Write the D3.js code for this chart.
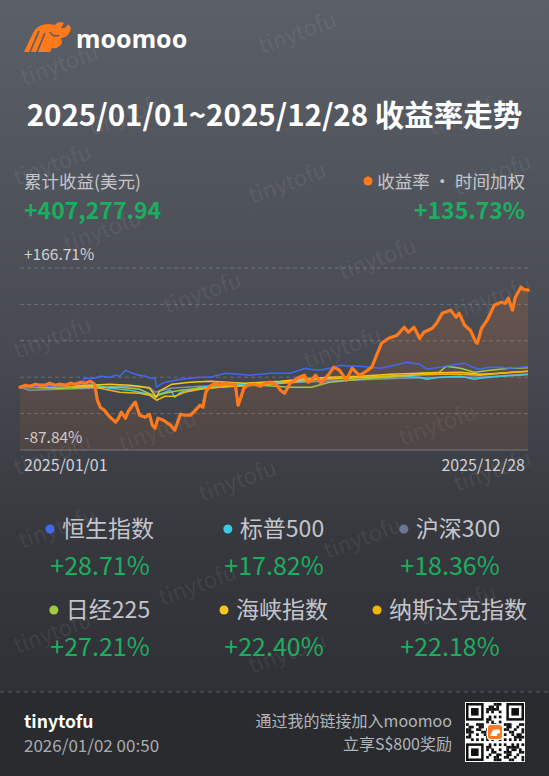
<!DOCTYPE html>
<meta charset="utf-8">
<script src="https://d3js.org/d3.v7.min.js"></script>
<style>
  body { margin: 0; background: #2a2b2f; }
  svg { display: block; font-family: "Noto Sans CJK SC", "Noto Sans", sans-serif; }
</style>
<body>
<svg width="549" height="776"></svg>
<script>
var startDay = "2025-01-01", endDay = "2025-12-28";
var titleText = "2025/01/01~2025/12/28 收益率走势";
var profitLabel = "累计收益(美元)", profitValue = "+407,277.94";
var twrLabel = "收益率 · 时间加权", twrValue = "+135.73%";
var yTop = 166.71, yBottom = -87.84;

// [days since 2025/01/01, return %]
var myReturn = [[0,0],[4,2.8],[7,1.4],[11,4.2],[14,2.8],[18,2.8],[21,5.6],[25,2.8],[28,4.2],[32,2.8],[36,5.6],[39,4.2],[43,7.0],[46,5.6],[50,8.4],[53,4.2],[55,-18.2],[57,-28.0],[60,-32.2],[64,-41.9],[68,-48.9],[70,-43.4],[72,-34.9],[75,-43.4],[77,-33.6],[80,-25.2],[82,-21.0],[85,-39.2],[89,-41.9],[92,-37.8],[94,-53.1],[96,-57.3],[98,-43.4],[102,-46.2],[104,-49.0],[107,-53.1],[110,-60.1],[114,-37.8],[117,-39.2],[121,-39.2],[124,-33.6],[128,-25.2],[130,-28.0],[132,-7.0],[135,1.4],[139,5.6],[142,2.8],[146,5.6],[149,4.2],[153,4.2],[155,-25.2],[157,-14.0],[159,-1.4],[162,2.8],[167,4.2],[171,1.4],[174,5.6],[178,7.0],[182,4.2],[185,-4.2],[188,-8.4],[192,5.6],[197,12.6],[202,16.8],[205,7.0],[207,9.8],[210,16.8],[214,5.6],[220,19.6],[223,28.0],[227,23.8],[232,9.8],[236,26.6],[241,16.8],[244,19.6],[250,28.0],[254,47.6],[257,61.5],[262,68.5],[268,72.7],[273,83.9],[276,76.9],[280,83.9],[284,68.5],[287,76.9],[293,82.5],[296,89.5],[300,103.5],[306,107.7],[310,97.9],[312,103.5],[316,86.7],[320,79.7],[324,62.9],[325,61.5],[328,82.5],[332,93.7],[337,114.7],[342,118.9],[345,117.5],[347,124.5],[350,107.7],[352,125.9],[356,139.8],[358,137.0],[361,135.73]];

var hsi = [[0,0],[39,2.8],[43,5.6],[46,12.6],[53,12.6],[57,15.4],[64,14.0],[68,16.8],[71,15.4],[75,23.8],[78,21.0],[82,18.2],[85,16.8],[89,15.4],[92,12.6],[96,12.6],[97,0],[99,2.8],[103,7.0],[107,8.4],[114,11.2],[121,12.6],[128,14.0],[135,14.0],[146,19.6],[156,18.2],[163,16.8],[171,18.2],[178,19.6],[192,19.6],[203,26.6],[206,25.2],[213,23.8],[220,26.6],[228,30.8],[234,29.4],[242,29.4],[249,28.0],[256,26.6],[263,29.4],[275,35.0],[284,32.2],[289,25.2],[298,28.0],[306,30.8],[316,33.6],[320,29.4],[326,25.2],[334,28.0],[341,28.0],[348,26.6],[355,28.0],[361,28.71]];

var spx = [[0,0],[50,2.8],[57,1.4],[64,-1.4],[71,-2.8],[78,-4.2],[85,-7.0],[92,-9.8],[96,-15.4],[99,-9.8],[107,-4.2],[110,-14.0],[114,-7.0],[121,-4.2],[128,0],[135,1.4],[142,2.8],[156,4.2],[171,5.6],[185,7.0],[199,9.8],[213,11.2],[227,12.6],[242,14.0],[256,14.0],[270,15.4],[284,14.0],[289,11.2],[298,14.0],[313,15.4],[323,11.2],[327,12.6],[341,15.4],[355,16.8],[361,17.82]];

var csi300 = [[0,0],[7,-4.2],[28,-2.8],[50,-1.4],[71,1.4],[92,0],[96,-7.0],[107,-1.4],[128,1.4],[163,2.8],[199,7.0],[234,9.8],[270,12.6],[306,14.0],[327,14.0],[361,18.36]];

var nikkei = [[0,0],[28,-1.4],[50,0],[71,0],[85,-2.8],[96,-12.6],[103,-8.4],[114,-4.2],[128,-1.4],[149,1.4],[171,2.8],[192,0],[207,0],[220,7.0],[234,9.8],[249,12.6],[263,14.0],[277,16.8],[285,19.6],[298,21.0],[303,29.4],[313,26.6],[323,21.0],[334,23.8],[348,26.6],[361,27.21]];

var sti = [[0,0],[28,1.4],[50,2.8],[64,4.2],[78,2.8],[85,1.4],[92,-1.4],[97,-14.0],[99,-5.6],[108,4.2],[121,7.0],[135,8.4],[160,5.6],[185,8.4],[199,11.2],[220,14.0],[242,15.4],[263,18.2],[284,19.6],[313,21.0],[327,18.2],[341,19.6],[361,22.40]];

var nasdaq = [[0,0],[50,1.4],[57,-1.4],[64,-4.2],[71,-7.0],[85,-8.4],[92,-11.2],[97,-18.2],[103,-12.6],[110,-12.6],[117,-7.0],[128,-2.8],[142,0],[163,2.8],[185,5.6],[199,8.4],[213,11.2],[234,12.6],[256,15.4],[277,16.8],[298,18.2],[313,18.2],[327,16.8],[341,19.6],[361,22.18]];

var indexNames = ["恒生指数", "标普500", "沪深300", "日经225", "海峡指数", "纳斯达克指数"];
var indexFinal = ["+28.71%", "+17.82%", "+18.36%", "+27.21%", "+22.40%", "+22.18%"];
var indexSeries = [hsi, spx, csi300, nikkei, sti, nasdaq];
var indexColors = ["#4169f0", "#3dc9e6", "#6b7790", "#9ccc3d", "#f7c51e", "#f5b40a"];
var lineColors  = ["#4169f0", "#3dc9e6", "#8690a3", "#9ccc3d", "#f7c51e", "#f5b40a"];

var footerName = "tinytofu", footerTime = "2026/01/02 00:50";
var inviteLines = ["通过我的链接加入moomoo", "立享S$800奖励"];

var W = 549, H = 776;
var green = "#1cae60", orange = "#ff7a1c";
var svg = d3.select("svg");
var defs = svg.append("defs");

// background
var bg = defs.append("linearGradient").attr("id", "bg").attr("x1", 0).attr("x2", 0).attr("y1", 0).attr("y2", 1);
bg.append("stop").attr("offset", "0%").attr("stop-color", "#5b5f67");
bg.append("stop").attr("offset", "45%").attr("stop-color", "#474a51");
bg.append("stop").attr("offset", "70%").attr("stop-color", "#36383e");
bg.append("stop").attr("offset", "100%").attr("stop-color", "#2c2d31");
svg.append("rect").attr("width", W).attr("height", H).attr("fill", "url(#bg)");
svg.append("rect").attr("y", 692).attr("width", W).attr("height", H - 692).attr("fill", "#2a2b2f");
svg.append("line").attr("x1", 0).attr("x2", W).attr("y1", 692).attr("y2", 692)
  .attr("stroke", "rgba(255,255,255,0.22)").attr("stroke-dasharray", "4,4");

// watermark
var marks = [[62,72],[300,40],[130,122],[470,122],[55,172],[290,190],[495,182],[105,238],[380,266],[205,300],[495,305],[55,345],[345,355],[160,438],[440,432],[55,462],[240,488],[495,478],[60,535],[365,545],[200,592],[460,612],[55,640],[290,660]];
svg.append("g").selectAll("text").data(marks).enter().append("text")
  .attr("transform", function(d){ return "translate(" + d[0] + "," + d[1] + ") rotate(-20)"; })
  .attr("text-anchor", "middle")
  .attr("font-size", 22)
  .attr("fill", "rgba(255,255,255,0.07)")
  .text("tinytofu");

// logo
var logo = svg.append("g");
logo.append("path")
  .attr("d", "M24,52 L33,33 C36,27 42,24 49,24 L55,25 C57,22 61,21 64,23 L61,28 C64,29 67,27 68,24 L71,28 C70,34 66,38 61,38 L62,43 C60,47 56,49 52,48 L50,52 Z")
  .attr("fill", orange);
logo.append("path").attr("d", "M30,52 L39,31 M37,52 L45,33").attr("stroke", "#585c64").attr("stroke-width", 1.6);
logo.append("path").attr("d", "M50,32 C52,36 56,37 59,35").attr("stroke", "#585c64").attr("stroke-width", 1.6).attr("fill", "none");
logo.append("text").attr("x", 76).attr("y", 48).attr("font-size", 25).attr("font-weight", 700)
  .attr("fill", "#fff").attr("font-family", "'Noto Sans', sans-serif").text("moomoo");

// title
svg.append("text").attr("x", W / 2).attr("y", 126).attr("text-anchor", "middle")
  .attr("font-size", 29.5).attr("font-weight", 700).attr("fill", "#fff").text(titleText);

// summary
svg.append("text").attr("x", 24).attr("y", 188).attr("font-size", 17.5).attr("fill", "#c4c6cb").text(profitLabel);
svg.append("text").attr("x", 24).attr("y", 219).attr("font-size", 23).attr("font-weight", 700).attr("fill", green).text(profitValue);
svg.append("text").attr("x", 525).attr("y", 188).attr("text-anchor", "end").attr("font-size", 17.5).attr("fill", "#c4c6cb").text(twrLabel);
svg.append("circle").attr("cx", 368).attr("cy", 181).attr("r", 4.5).attr("fill", orange);
svg.append("text").attr("x", 525).attr("y", 219).attr("text-anchor", "end").attr("font-size", 23).attr("font-weight", 700).attr("fill", green).text(twrValue);

// chart
var parse = d3.timeParse("%Y-%m-%d");
var t0 = parse(startDay), t1 = parse(endDay);
var x = d3.scaleTime().domain([t0, t1]).range([20, 528]);
var y = d3.scaleLinear().domain([yBottom, yTop]).range([450, 268]);
var dateOf = function(d){ return d3.timeDay.offset(t0, d[0]); };

var grid = d3.range(6).map(function(i){ return yBottom + i * (yTop - yBottom) / 5; });
svg.append("g").selectAll("line").data(grid).enter().append("line")
  .attr("x1", 20).attr("x2", 528)
  .attr("y1", function(d){ return y(d); }).attr("y2", function(d){ return y(d); })
  .attr("stroke", function(d, i){ return i == 0 ? "rgba(255,255,255,0.28)" : "rgba(255,255,255,0.2)"; })
  .attr("stroke-dasharray", function(d, i){ return i == 0 ? null : "4,3"; });

var fmt = function(v){ return (v > 0 ? "+" : "") + v.toFixed(2) + "%"; };
svg.append("text").attr("x", 24).attr("y", y(yTop) - 8).attr("font-size", 15.5).attr("fill", "#cfd1d6").text(fmt(yTop));
svg.append("text").attr("x", 24).attr("y", y(yBottom) - 7).attr("font-size", 15.5).attr("fill", "#cfd1d6").text(fmt(yBottom));

var axisFmt = d3.timeFormat("%Y/%m/%d");
svg.append("text").attr("x", 24).attr("y", 471).attr("font-size", 16).attr("fill", "#cfd1d6").text(axisFmt(t0));
svg.append("text").attr("x", 525).attr("y", 471).attr("text-anchor", "end").attr("font-size", 16).attr("fill", "#cfd1d6").text(axisFmt(t1));

var ag = defs.append("linearGradient").attr("id", "area").attr("x1", 0).attr("x2", 0).attr("y1", 0).attr("y2", 1);
ag.append("stop").attr("offset", "0%").attr("stop-color", "rgb(255,120,40)").attr("stop-opacity", 0.16);
ag.append("stop").attr("offset", "100%").attr("stop-color", "rgb(255,120,40)").attr("stop-opacity", 0.08);

svg.append("path").datum(myReturn)
  .attr("fill", "url(#area)")
  .attr("d", d3.area().x(function(d){ return x(dateOf(d)); }).y0(y(yBottom)).y1(function(d){ return y(d[1]); }));

var line = d3.line().x(function(d){ return x(dateOf(d)); }).y(function(d){ return y(d[1]); });
var order = [2, 1, 3, 4, 5, 0];
order.forEach(function(i){
  svg.append("path").datum(indexSeries[i])
    .attr("fill", "none").attr("stroke", lineColors[i]).attr("stroke-width", 1.5)
    .attr("stroke-linejoin", "round").attr("d", line);
});
svg.append("path").datum(myReturn)
  .attr("fill", "none").attr("stroke", orange).attr("stroke-width", 3.2)
  .attr("stroke-linejoin", "round").attr("stroke-linecap", "round").attr("d", line);

// legend
var colX = [100, 274, 450], rowY = [537, 618];
indexNames.forEach(function(name, i){
  var cx = colX[i % 3], ry = rowY[Math.floor(i / 3)];
  var g = svg.append("g");
  g.append("circle").attr("cx", 0).attr("cy", -8).attr("r", 4.5).attr("fill", indexColors[i]);
  var t = g.append("text").attr("x", 12).attr("y", 0).attr("font-size", 23).attr("fill", "#c3c5ca").text(name);
  var w = 12 + t.node().getComputedTextLength();
  g.attr("transform", "translate(" + (cx - w / 2 + 2) + "," + ry + ")");
  svg.append("text").attr("x", cx).attr("y", ry + 38).attr("text-anchor", "middle")
    .attr("font-size", 25).attr("fill", green).text(indexFinal[i]);
});

// footer
svg.append("text").attr("x", 24).attr("y", 728).attr("font-size", 17.5).attr("font-weight", 700).attr("fill", "#fff").text(footerName);
svg.append("text").attr("x", 24).attr("y", 752).attr("font-size", 17).attr("fill", "#a9abb0").text(footerTime);
inviteLines.forEach(function(s, i){
  svg.append("text").attr("x", 452).attr("y", 727 + i * 23).attr("text-anchor", "end")
    .attr("font-size", 16).attr("fill", "#b3b5ba").text(s);
});

// qr code (decorative)
var qx = 466, qy = 703, n = 23, m = 58 / n;
var qr = svg.append("g").attr("transform", "translate(" + qx + "," + qy + ")");
qr.append("rect").attr("x", -1).attr("y", -1).attr("width", 60).attr("height", 60).attr("fill", "#fff");
var cells = [];
for (var r = 0; r < n; r++) for (var c = 0; c < n; c++) {
  var inFinder = (r < 8 && c < 8) || (r < 8 && c >= n - 8) || (r >= n - 8 && c < 8);
  if (inFinder) continue;
  if (((r * 7 + c * 13 + r * c * 5) % 11) < 5) cells.push([r, c]);
}
qr.selectAll("rect.m").data(cells).enter().append("rect").attr("class", "m")
  .attr("x", function(d){ return d[1] * m; }).attr("y", function(d){ return d[0] * m; })
  .attr("width", m + 0.2).attr("height", m + 0.2).attr("fill", "#111");
[[0, 0], [0, n - 7], [n - 7, 0]].forEach(function(p){
  qr.append("rect").attr("x", p[1] * m + m / 2).attr("y", p[0] * m + m / 2).attr("width", 6 * m).attr("height", 6 * m)
    .attr("fill", "none").attr("stroke", "#111").attr("stroke-width", m);
  qr.append("rect").attr("x", (p[1] + 2) * m).attr("y", (p[0] + 2) * m).attr("width", 3 * m).attr("height", 3 * m).attr("fill", "#111");
});
qr.append("rect").attr("x", 21).attr("y", 21).attr("width", 16).attr("height", 16).attr("rx", 3).attr("fill", "#fff");
qr.append("rect").attr("x", 22).attr("y", 22).attr("width", 14).attr("height", 14).attr("rx", 2.5).attr("fill", orange);
qr.append("path").attr("d", "M24,33 L27,27 C29,26 31,26 34,27 L34,30 L31,31 L31,33 Z").attr("fill", "#fff");
</script>
</body>
